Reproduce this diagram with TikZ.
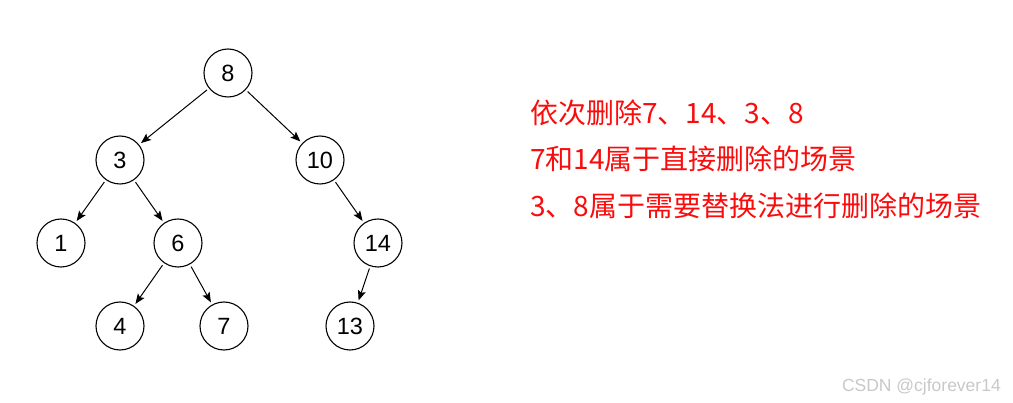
\documentclass[tikz,border=0pt]{standalone}
\usepackage{fontspec}
\setmainfont{Liberation Sans}
\newfontfamily\cjk{Noto Sans CJK SC}
\usetikzlibrary{arrows.meta, positioning}
\definecolor{notered}{RGB}{250,12,12}
\definecolor{wmgray}{RGB}{200,200,200}

\begin{document}
\begin{tikzpicture}[
    x=1pt, y=-1pt,
    key/.style={circle, draw=black, line width=1.1pt, minimum size=48pt, inner sep=0pt, outer sep=3pt, font=\fontsize{23.5}{23.5}\selectfont},
    arrow/.style={-{Stealth[length=10pt, width=8pt, inset=2pt]}, line width=1pt},
    note/.style={anchor=base west, inner sep=0pt, text=notered, font=\cjk\fontsize{28}{28}\selectfont},
    watermark/.style={anchor=base east, inner sep=0pt, text=wmgray, font=\fontsize{17.5}{17.5}\selectfont}
]
    \useasboundingbox (0,0) rectangle (1013,403);

    % Tree nodes
    \node[key] (k8)  at (228,73)  {8};
    \node[key] (k3)  at (120,160) {3};
    \node[key] (k10) at (320,160) {10};
    \node[key] (k1)  at (61,243)  {1};
    \node[key] (k6)  at (178,243) {6};
    \node[key] (k14) at (378,243) {14};
    \node[key] (k4)  at (120,326) {4};
    \node[key] (k7)  at (224,326) {7};
    \node[key] (k13) at (350,326) {13};

    % Edges
    \draw[arrow] (k8) -- (k3);
    \draw[arrow] (k8) -- (k10);
    \draw[arrow] (k3) -- (k1);
    \draw[arrow] (k3) -- (k6);
    \draw[arrow] (k6) -- (k4);
    \draw[arrow] (k6) -- (k7);
    \draw[arrow] (k10) -- (k14);
    \draw[arrow] (k14) -- (k13);

    % Notes
    \node[note] (n1) at (530,124) {依次删除7、14、3、8};
    \node[note] (n2) at (530,170) {7和14属于直接删除的场景};
    \node[note] (n3) at (530,217) {3、8属于需要替换法进行删除的场景};

    % Watermark
    \node[watermark] (wm) at (1001,392) {CSDN @cjforever14};

\end{tikzpicture}
\end{document}
